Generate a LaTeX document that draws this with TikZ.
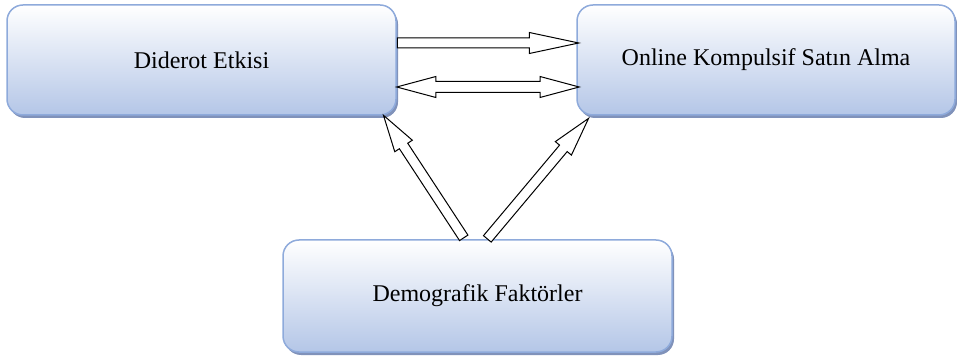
\documentclass[tikz,border=0pt]{standalone}
\usepackage{fontspec}
\setmainfont{Liberation Serif}
\usetikzlibrary{arrows.meta,positioning,shapes.arrows,shadows,calc}

\definecolor{boxline}{RGB}{142,170,219}
\definecolor{boxfill}{RGB}{180,198,231}
\definecolor{boxshadow}{RGB}{128,146,186}

% block arrow from #2 to #3, drawn as a rotated arrow node
\newcommand{\blkarrow}[3][]{%
  \path let \p1=(#2), \p2=(#3), \n1={atan2(\y2-\y1,\x2-\x1)}, \n2={veclen(\x2-\x1,\y2-\y1)} in
    node[#1, minimum height=\n2, rotate=\n1] at (\p1) {};}

\begin{document}
\begin{tikzpicture}[
  x=1pt, y=1pt,
  box/.style={draw=boxline, line width=1.5pt, rounded corners=16pt, top color=white, bottom color=boxfill,
    drop shadow={shadow xshift=2pt, shadow yshift=-3pt, fill=boxshadow, opacity=1},
    align=center, font=\fontsize{24}{28}\selectfont},
  one/.style={single arrow, draw, fill=white, line width=1pt, inner xsep=0pt, inner ysep=4.5pt,
    minimum width=0pt, single arrow head extend=5.5pt, single arrow tip angle=#1, anchor=tail},
  two/.style={double arrow, draw, fill=white, line width=1pt, inner xsep=0pt, inner ysep=5pt,
    minimum width=0pt, double arrow head extend=5pt, double arrow tip angle=30, anchor=west}
]
\useasboundingbox (0,0) rectangle (957,361);

\node[box, minimum width=389pt, minimum height=110pt] (diderot) at (201.5,301) {Diderot Etkisi};
\node[box, minimum width=378pt, minimum height=110pt] (online) at (766,301) {Online Kompulsif Satın Alma};
\node[box, minimum width=389pt, minimum height=112pt] (demo) at (477.5,65) {Demografik Faktörler};

\coordinate (a1s) at ($(diderot.east)+(0,17)$);
\coordinate (a1e) at ($(online.west)+(2,17)$);
\coordinate (a2s) at ($(diderot.east)+(-2,-27)$);
\coordinate (a2e) at ($(online.west)+(1,-27)$);
\coordinate (a3s) at ($(demo.north)+(-13.5,1)$);
\coordinate (a3e) at ($(diderot.south east)+(-13,0)$);
\coordinate (a4s) at ($(demo.north)+(9.5,0)$);
\coordinate (a4e) at ($(online.south west)+(12,-3)$);

\blkarrow[one=24]{a1s}{a1e}
\blkarrow[two]{a2s}{a2e}
\blkarrow[one=32]{a3s}{a3e}
\blkarrow[one=30]{a4s}{a4e}
\end{tikzpicture}
\end{document}
